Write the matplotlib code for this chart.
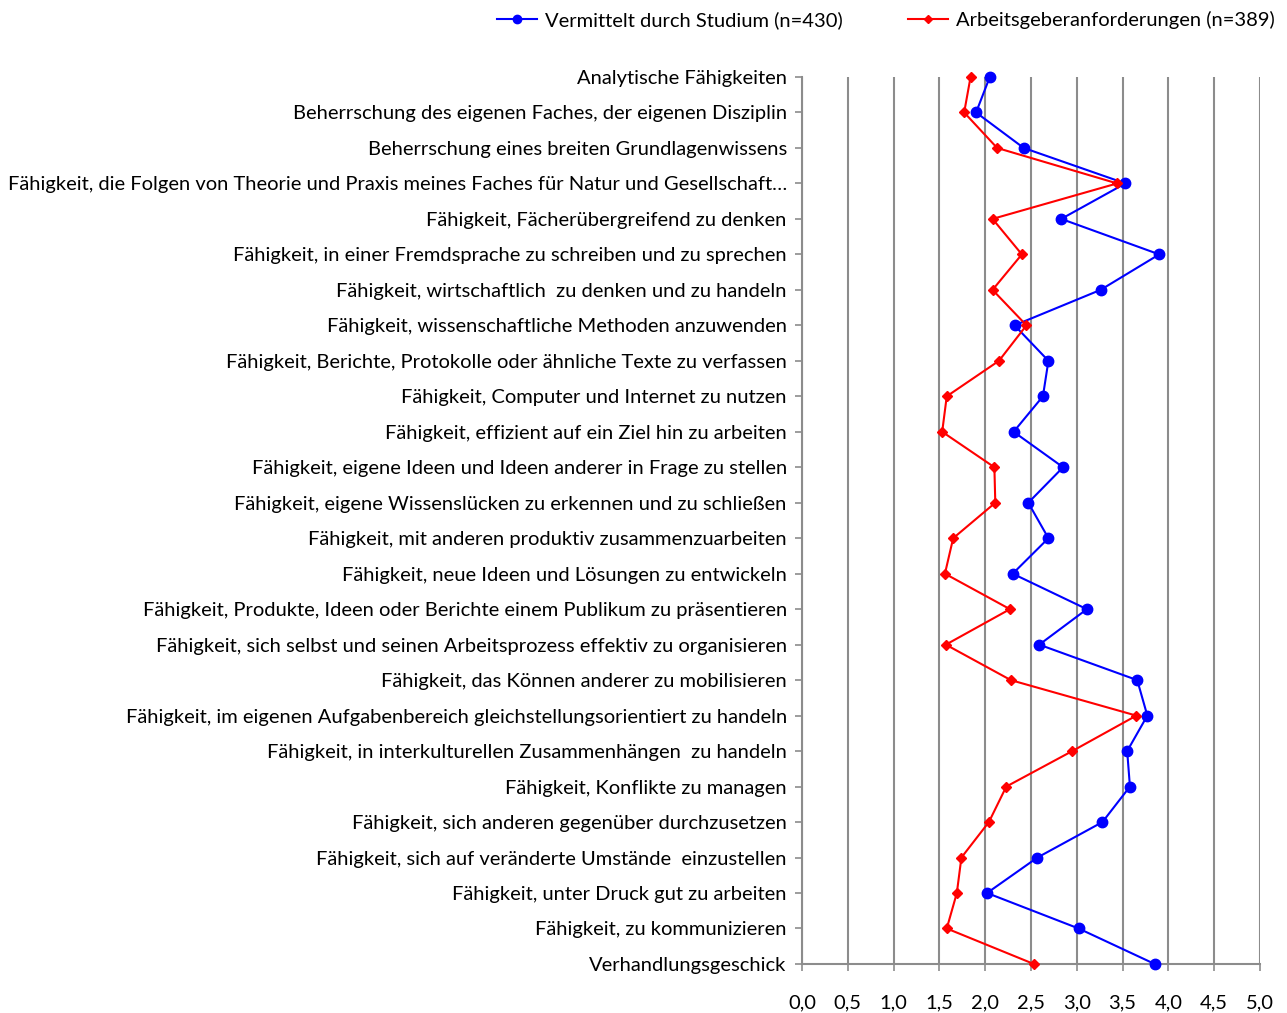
import matplotlib
matplotlib.use("Agg")
import matplotlib.pyplot as plt
import numpy as np

plt.rcParams['font.family'] = ['Lato', 'DejaVu Sans']

categories = [
    "Analytische Fähigkeiten",
    "Beherrschung des eigenen Faches, der eigenen Disziplin",
    "Beherrschung eines breiten Grundlagenwissens",
    "Fähigkeit, die Folgen von Theorie und Praxis meines Faches für Natur und Gesellschaft…",
    "Fähigkeit, Fächerübergreifend zu denken",
    "Fähigkeit, in einer Fremdsprache zu schreiben und zu sprechen",
    "Fähigkeit, wirtschaftlich  zu denken und zu handeln",
    "Fähigkeit, wissenschaftliche Methoden anzuwenden",
    "Fähigkeit, Berichte, Protokolle oder ähnliche Texte zu verfassen",
    "Fähigkeit, Computer und Internet zu nutzen",
    "Fähigkeit, effizient auf ein Ziel hin zu arbeiten",
    "Fähigkeit, eigene Ideen und Ideen anderer in Frage zu stellen",
    "Fähigkeit, eigene Wissenslücken zu erkennen und zu schließen",
    "Fähigkeit, mit anderen produktiv zusammenzuarbeiten",
    "Fähigkeit, neue Ideen und Lösungen zu entwickeln",
    "Fähigkeit, Produkte, Ideen oder Berichte einem Publikum zu präsentieren",
    "Fähigkeit, sich selbst und seinen Arbeitsprozess effektiv zu organisieren",
    "Fähigkeit, das Können anderer zu mobilisieren",
    "Fähigkeit, im eigenen Aufgabenbereich gleichstellungsorientiert zu handeln",
    "Fähigkeit, in interkulturellen Zusammenhängen  zu handeln",
    "Fähigkeit, Konflikte zu managen",
    "Fähigkeit, sich anderen gegenüber durchzusetzen",
    "Fähigkeit, sich auf veränderte Umstände  einzustellen",
    "Fähigkeit, unter Druck gut zu arbeiten",
    "Fähigkeit, zu kommunizieren",
    "Verhandlungsgeschick",
]

studium = [2.05, 1.90, 2.42, 3.53, 2.83, 3.90, 3.26, 2.32, 2.69, 2.63, 2.31, 2.85, 2.47,
           2.69, 2.30, 3.11, 2.59, 3.66, 3.77, 3.55, 3.58, 3.28, 2.57, 2.02, 3.02, 3.85]
arbeitgeber = [1.84, 1.77, 2.13, 3.44, 2.08, 2.40, 2.08, 2.45, 2.15, 1.58, 1.53, 2.10, 2.11,
               1.65, 1.56, 2.27, 1.57, 2.28, 3.65, 2.95, 2.23, 2.04, 1.74, 1.69, 1.58, 2.53]

label_studium = "Vermittelt durch Studium (n=430)"
label_arbeit = "Arbeitsgeberanforderungen (n=389)"
xticks = np.arange(0, 5.01, 0.5)
xticklabels = [f"{v:.1f}".replace(".", ",") for v in xticks]

FS = 14.5

fig = plt.figure(figsize=(12.87, 10.13), dpi=100)
ax = fig.add_axes([0.6232, 0.0484, 0.9790 - 0.6232, 0.924 - 0.0484])

y = np.arange(len(categories))
ax.plot(studium, y, color='#0000FF', lw=1.5, marker='o', markersize=7.5,
        label=label_studium, clip_on=False, zorder=3)
ax.plot(arbeitgeber, y, color='#FF0000', lw=1.5, marker='D', markersize=5.5,
        label=label_arbeit, clip_on=False, zorder=4)

ax.set_xlim(0, 5)
ax.set_ylim(len(categories) - 1, 0)
ax.set_xticks(xticks)
ax.set_xticklabels(xticklabels, fontsize=FS)
ax.set_yticks(y)
ax.set_yticklabels(categories, fontsize=FS)
ax.grid(axis='x', color='#8C8C8C', lw=1.5)
ax.set_axisbelow(True)
for s in ['top', 'right']:
    ax.spines[s].set_visible(False)
for s in ['left', 'bottom']:
    ax.spines[s].set_color('#8C8C8C')
    ax.spines[s].set_linewidth(1.5)
ax.tick_params(axis='y', length=5, width=1.2, color='#8C8C8C', pad=6)
ax.tick_params(axis='x', length=5, width=1.2, color='#8C8C8C', pad=17)

fig.legend(loc='upper right', bbox_to_anchor=(0.999, 1.0), ncol=2, frameon=False,
           fontsize=FS, handlelength=2.0, columnspacing=3.2, handletextpad=0.4,
           markerscale=0.8, borderpad=0.05)

fig.savefig("out.png", dpi=100)
